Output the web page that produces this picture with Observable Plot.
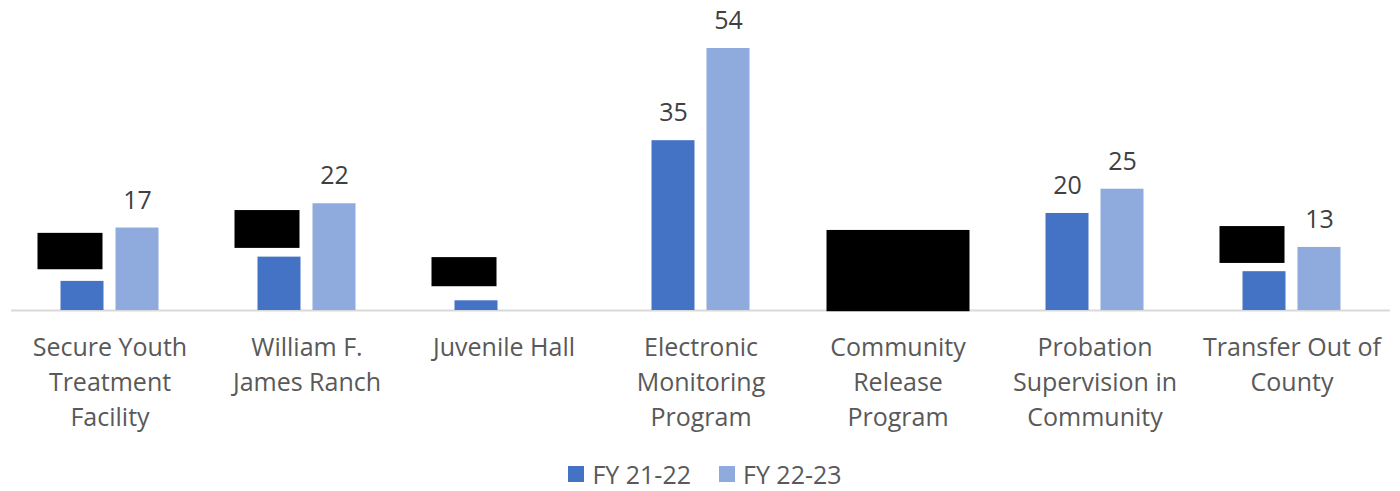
<!DOCTYPE html>
<html>
<head>
<meta charset="utf-8">
<script src="https://cdn.jsdelivr.net/npm/d3@7"></script>
<script src="https://cdn.jsdelivr.net/npm/@observablehq/plot@0.6"></script>
<style>
  body { margin: 0; background: #fff; font-family: "Open Sans", sans-serif; position: relative; height: 491px; overflow: hidden; }
  #chart svg { display: block; }
  #legend { position: absolute; left: 0; right: 0; top: 457px; height: 34px; line-height: 34px; display: flex; justify-content: center; align-items: center; font-size: 25px; color: #595959; padding-left: 10px; }
  .item { display: flex; align-items: center; margin: 0 14px; }
  .sw { width: 16px; height: 16px; margin-right: 8px; }
</style>
</head>
<body>
<div id="chart"></div>
<div id="legend"></div>
<script>
// ---- data ----
const categories = [
  "Secure Youth Treatment Facility",
  "William F. James Ranch",
  "Juvenile Hall",
  "Electronic Monitoring Program",
  "Community Release Program",
  "Probation Supervision in Community",
  "Transfer Out of County"
];
const categoryLines = [
  "Secure Youth\nTreatment\nFacility",
  "William F.\nJames Ranch",
  "Juvenile Hall",
  "Electronic\nMonitoring\nProgram",
  "Community\nRelease\nProgram",
  "Probation\nSupervision in\nCommunity",
  "Transfer Out of\nCounty"
];
const series = ["FY 21-22", "FY 22-23"];
const fy2122 = [6, 11, 2, 35, null, 20, 8];
const fy2223 = [17, 22, null, 54, null, 25, 13];
const colors = ["#4472C4", "#8FAADC"];

// redacted (blacked-out) labels, in value units
const redactCategory = ["Secure Youth Treatment Facility", "William F. James Ranch", "Juvenile Hall", "Transfer Out of County"];
const redactSeries = ["FY 21-22", "FY 21-22", "FY 21-22", "FY 21-22"];
const redactLow = [8.4, 12.8, 4.9, 9.7];
const redactHigh = [15.9, 20.6, 10.9, 17.3];
// whole-group redaction
const blockCategory = ["Community Release Program"];
const blockLow = [-0.25];
const blockHigh = [16.5];

// ---- tables ----
const table = categories.flatMap((c, i) => [
  {category: c, series: series[0], value: fy2122[i]},
  {category: c, series: series[1], value: fy2223[i]}
]).filter(d => d.value != null);
const redactions = redactCategory.map((c, i) => ({category: c, series: redactSeries[i], low: redactLow[i], high: redactHigh[i]}));
const blocks = blockCategory.map((c, i) => ({category: c, low: blockLow[i], high: blockHigh[i]}));

const chart = Plot.plot({
  width: 1400,
  height: 440,
  marginTop: 48,
  marginBottom: 130,
  marginLeft: 9.5,
  marginRight: 9.5,
  style: {fontFamily: "Open Sans", fontSize: "25px", background: "white"},
  fx: {domain: categories, padding: 0, axis: null},
  x: {domain: series, axis: null, paddingInner: 0.214, paddingOuter: 0.866},
  y: {domain: [0, 54], axis: null},
  color: {domain: series, range: colors},
  marks: [
    Plot.ruleY([0], {stroke: "#d9d9d9", strokeWidth: 2}),
    Plot.barY(table, {fx: "category", x: "series", y: "value", fill: "series"}),
    Plot.text(table, {fx: "category", x: "series", y: "value", text: d => String(d.value), lineAnchor: "bottom", dy: -19.5, fontSize: 25, fill: "#404040"}),
    Plot.barY(redactions, {fx: "category", x: "series", y1: "low", y2: "high", fill: "black", insetLeft: -23, insetRight: 1}),
    Plot.barY(blocks, {fx: "category", y1: "low", y2: "high", fill: "black", insetLeft: 27.5, insetRight: 26.5}),
    Plot.axisFx({anchor: "bottom", tickSize: 0, tickPadding: 21, fontSize: 25, lineHeight: 1.4, fill: "#595959", label: null,
      tickFormat: d => categoryLines[categories.indexOf(d)]})
  ]
});
document.getElementById("chart").appendChild(chart);

const legend = document.getElementById("legend");
series.forEach((s, i) => {
  const item = document.createElement("div");
  item.className = "item";
  const sw = document.createElement("div");
  sw.className = "sw";
  sw.style.background = colors[i];
  const t = document.createElement("span");
  t.textContent = s;
  item.appendChild(sw);
  item.appendChild(t);
  legend.appendChild(item);
});
</script>
</body>
</html>
